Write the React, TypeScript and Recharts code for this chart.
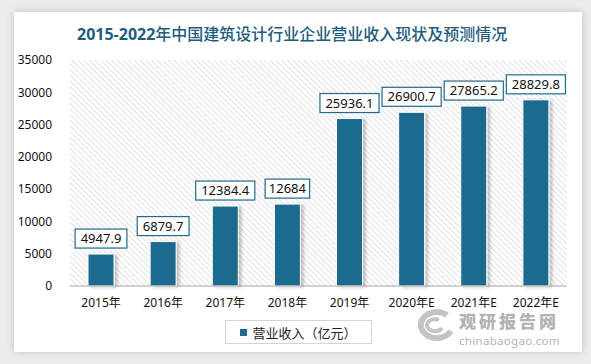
import { BarChart, Bar, XAxis, YAxis, CartesianGrid, LabelList } from 'recharts'

const years = ['2015年', '2016年', '2017年', '2018年', '2019年', '2020年E', '2021年E', '2022年E']
const revenue = [4947.9, 6879.7, 12384.4, 12684, 25936.1, 26900.7, 27865.2, 28829.8]
const yTicks = [0, 5000, 10000, 15000, 20000, 25000, 30000, 35000]

const data = years.map((year, i) => ({ year, revenue: revenue[i] }))

const BAR_COLOR = '#1d6a8d'
const FONT = '"Noto Sans", "Noto Sans CJK SC", sans-serif'

function BoxLabel(props: any) {
  const { x, y, width, value } = props
  const text = String(value)
  const w = text.length * 7.3 + 8
  const h = 19
  const cx = x + width / 2
  const top = y - h - 6
  return (
    <g>
      <rect x={cx - w / 2} y={top} width={w} height={h} fill="#fff" stroke="#1f6a8c" strokeWidth={1.2} />
      <text x={cx} y={top + h / 2 + 4.5} textAnchor="middle" fontSize={13} fill="#111" fontFamily={FONT}>
        {text}
      </text>
    </g>
  )
}

export default function App() {
  return (
    <div style={{ position: 'absolute', left: 0, top: 0, width: 591, height: 364, background: '#ececec', overflow: 'hidden' }}>
      <svg width={0} height={0} style={{ position: 'absolute' }}>
        <defs>
          <pattern id="hatch" width="4" height="4" patternUnits="userSpaceOnUse" patternTransform="rotate(-45)">
            <rect width="4" height="4" fill="#fff" />
            <line x1="0" y1="0" x2="0" y2="4" stroke="#d2d2d2" strokeWidth="1.3" />
          </pattern>
          <filter id="shadow" x="-30%" y="-10%" width="170%" height="120%">
            <feDropShadow dx="3" dy="1" stdDeviation="1.5" floodColor="#000" floodOpacity="0.22" />
          </filter>
        </defs>
      </svg>
      <div
        style={{
          position: 'absolute',
          left: 14,
          top: 12,
          width: 568,
          height: 340,
          background: '#fff',
          boxShadow: '0 0 8px rgba(0,0,0,0.18)',
        }}
      />
      <div
        style={{
          position: 'absolute',
          left: 77,
          top: 21,
          fontFamily: FONT,
          fontSize: 16,
          color: '#1e5d7e',
          whiteSpace: 'nowrap',
        }}
      >
        <span style={{ fontWeight: 700 }}>2015-2022</span>
        <span style={{ fontWeight: 500 }}>年中国建筑设计行业企业营业收入现状及预测情况</span>
      </div>
      <div style={{ position: 'absolute', left: 0, top: 0 }}>
        <BarChart width={591} height={364} data={data} margin={{ top: 60, right: 24, bottom: 58, left: 0 }}>
          <CartesianGrid horizontal={true} vertical={false} stroke="transparent" fill="url(#hatch)" fillOpacity={1} />
          <XAxis
            dataKey="year"
            tick={{ fill: '#111', fontSize: 12, fontFamily: FONT }}
            tickLine={false}
            axisLine={{ stroke: '#a6a6a6' }}
            interval={0}
            height={20}
            tickMargin={6}
          />
          <YAxis
            domain={[0, 35000]}
            ticks={yTicks}
            width={70}
            tick={{ fill: '#111', fontSize: 12, fontFamily: FONT }}
            tickLine={false}
            axisLine={false}
            tickMargin={12}
          />
          <Bar
            dataKey="revenue"
            name="营业收入（亿元）"
            fill={BAR_COLOR}
            barSize={26}
            stroke="#fff"
            strokeWidth={1}
            filter="url(#shadow)"
            isAnimationActive={false}
          >
            <LabelList dataKey="revenue" content={<BoxLabel />} />
          </Bar>
        </BarChart>
      </div>
      <div
        style={{
          position: 'absolute',
          left: 225,
          top: 320,
          width: 147,
          height: 24,
          border: '1px solid #d4d4d4',
          display: 'flex',
          alignItems: 'center',
          justifyContent: 'center',
          fontFamily: FONT,
          fontSize: 13,
          color: '#222',
          boxSizing: 'border-box',
        }}
      >
        <span style={{ width: 7, height: 7, background: BAR_COLOR, marginRight: 5, display: 'inline-block' }} />
        营业收入（亿元）
      </div>
      <div style={{ position: 'absolute', left: 459, top: 308, fontFamily: FONT, color: '#b3b3b3', fontSize: 17, fontWeight: 900, letterSpacing: 3, whiteSpace: 'nowrap' }}>
        观研报告网
      </div>
      <div style={{ position: 'absolute', left: 459, top: 333, fontFamily: FONT, color: '#b3b3b3', fontSize: 11.5, letterSpacing: 0.3, whiteSpace: 'nowrap' }}>
        chinabaogao.com
      </div>
      <svg style={{ position: 'absolute', left: 411, top: 307 }} width={46} height={34}>
        <path d="M36 8 A16 13 0 1 0 40 24" fill="none" stroke="#c4c4c4" strokeWidth={6} />
        <path d="M28 13 A8 6 0 1 0 31 21" fill="none" stroke="#c4c4c4" strokeWidth={4} />
      </svg>
    </div>
  )
}
